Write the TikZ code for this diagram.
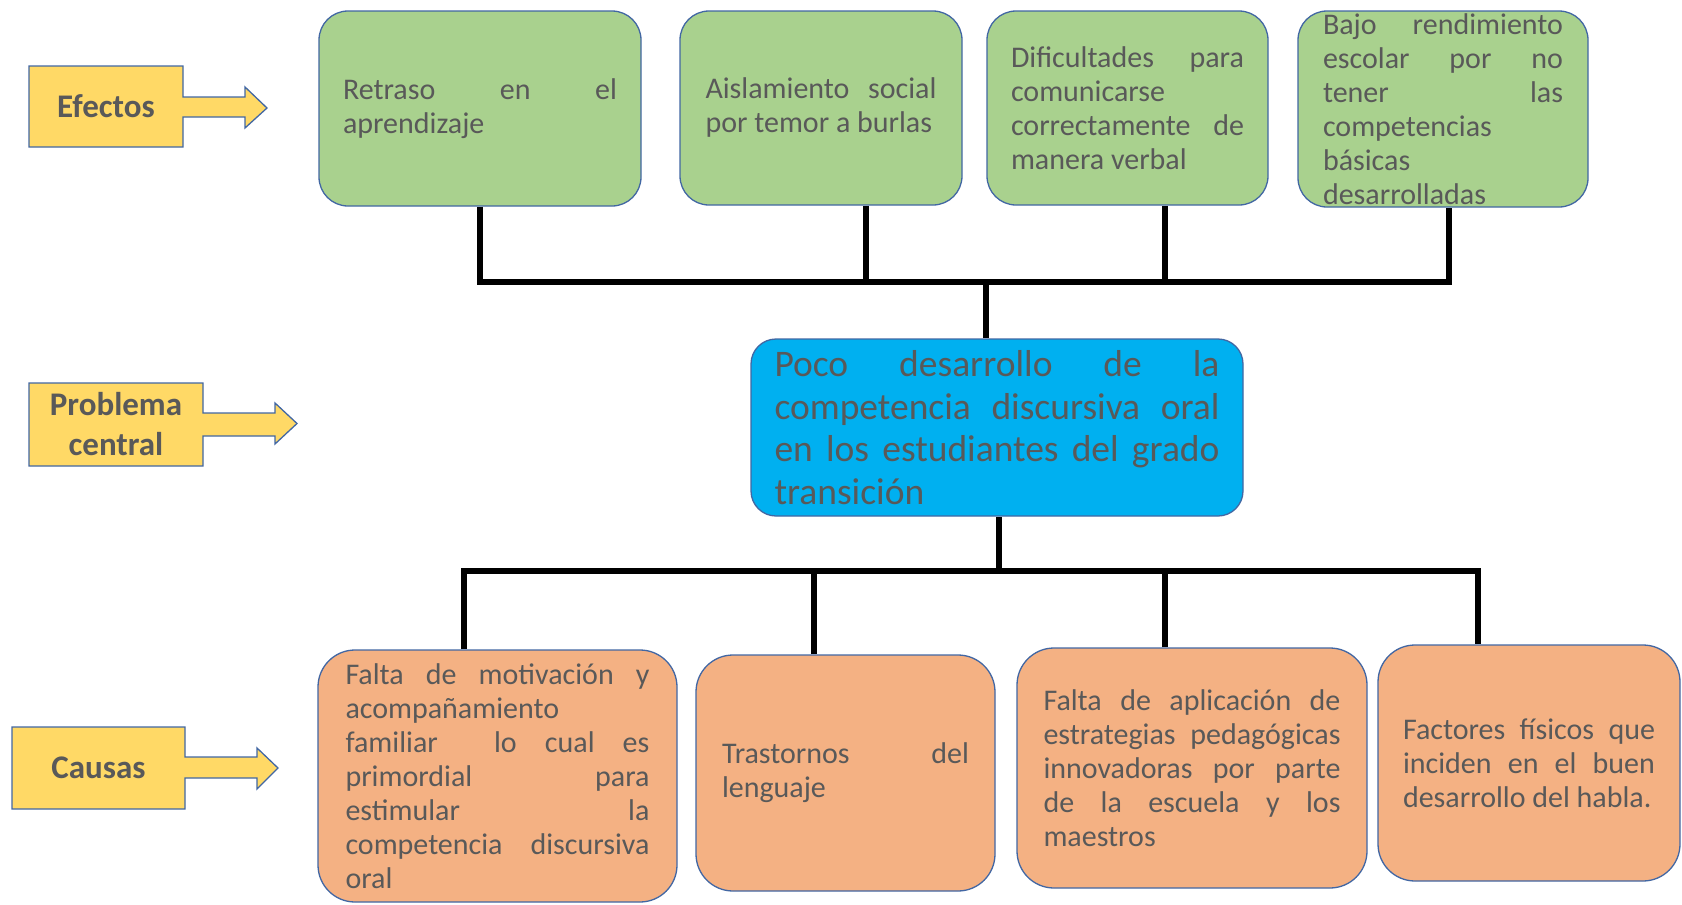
\documentclass[tikz,border=0pt]{standalone}
\usepackage{fontspec}
\setmainfont{Carlito}
\usepackage{tikz}

\definecolor{txtgray}{RGB}{89,89,89}
\definecolor{edgeblue}{RGB}{66,103,163}
\definecolor{efgreen}{RGB}{169,209,142}
\definecolor{pcblue}{RGB}{0,176,240}
\definecolor{caorange}{RGB}{244,177,131}
\definecolor{labyellow}{RGB}{255,217,102}

\tolerance=10000
\hyphenpenalty=10000
\hbadness=10000

\begin{document}
\begin{tikzpicture}[x=1pt,y=1pt,
  box/.style={draw=edgeblue,line width=1.3pt,inner sep=0pt,align=justify,text=txtgray,
    font=\fontsize{30}{34}\selectfont},
  efbox/.style={box,fill=efgreen,rounded corners=29pt},
  cabox/.style={box,fill=caorange,rounded corners=37pt},
  pcbox/.style={box,fill=pcblue,rounded corners=25pt,font=\fontsize{37.5}{42.7}\selectfont},
  labshape/.style={draw=edgeblue,line width=1.3pt,fill=labyellow},
  lab/.style={text=txtgray,align=center,inner sep=0pt,font=\bfseries\fontsize{33}{40}\selectfont},
  tree/.style={black,line width=5.5pt}]
\useasboundingbox (0,0) rectangle (1682,-905);

\draw [labshape] (29,-66) -- (183,-66) -- (183,-97) -- (245,-97) -- (245,-87) -- (267,-108)
  -- (245,-128) -- (245,-117) -- (183,-117) -- (183,-147) -- (29,-147) -- cycle;
\node [lab] (efectos) at (106,-106.5) {Efectos};
\draw [labshape] (29,-383) -- (203,-383) -- (203,-413) -- (275,-413) -- (275,-403) -- (297,-423.5)
  -- (275,-444) -- (275,-436) -- (203,-436) -- (203,-466) -- (29,-466) -- cycle;
\node [lab] (problema) at (116,-424.5) {Problema\\central};
\draw [labshape] (12,-727) -- (185,-727) -- (185,-757) -- (257,-757) -- (257,-748) -- (278,-768)
  -- (257,-789) -- (257,-778) -- (185,-778) -- (185,-809) -- (12,-809) -- cycle;
\node [lab] (causas) at (98.5,-768) {Causas};

\node [efbox,minimum width=322pt,minimum height=195pt,text width=274pt] (g1) at (480,-108.5)
  {Retraso~en~el\linebreak aprendizaje};
\node [efbox,minimum width=282pt,minimum height=194pt,text width=231pt] (g2) at (821,-108)
  {Aislamiento~social\linebreak por~temor~a~burlas};
\node [efbox,minimum width=281pt,minimum height=194pt,text width=233pt] (g3) at (1127.5,-108)
  {Dificultades~para\linebreak comunicarse\linebreak correctamente~de\linebreak manera~verbal};
\node [efbox,minimum width=290pt,minimum height=196pt,text width=240pt,inner ysep=-6pt] (g4) at (1443,-109)
  {Bajo~rendimiento\linebreak escolar~por~no\linebreak tener~las\linebreak competencias\linebreak básicas\linebreak desarrolladas};

\node [pcbox,minimum width=492pt,minimum height=177pt,text width=445pt] (prob) at (997,-427.5)
  {Poco~desarrollo~de~la\linebreak competencia~discursiva~oral\linebreak en~los~estudiantes~del~grado\linebreak transición};

\node [cabox,minimum width=359pt,minimum height=252pt,text width=304pt] (c1) at (497.5,-776)
  {Falta~de~motivación~y\linebreak acompañamiento\linebreak familiar~~lo~cual~es\linebreak primordial~para\linebreak estimular~la\linebreak competencia~discursiva\linebreak oral};
\node [cabox,minimum width=299pt,minimum height=236pt,text width=247pt] (c2) at (845.5,-773)
  {Trastornos~del\linebreak lenguaje};
\node [cabox,minimum width=350pt,minimum height=240pt,text width=297pt] (c3) at (1192,-768)
  {Falta~de~aplicación~de\linebreak estrategias~pedagógicas\linebreak innovadoras~por~parte\linebreak de~la~escuela~y~los\linebreak maestros};
\node [cabox,minimum width=302pt,minimum height=236pt,text width=252pt] (c4) at (1529,-763)
  {Factores~físicos~que\linebreak inciden~en~el~buen\linebreak desarrollo~del~habla.};

\coordinate (t1) at (480,-282);
\coordinate (t2) at (866,-282);
\coordinate (t3) at (1165,-282);
\coordinate (t4) at (1449,-282);
\coordinate (tc) at (986,-282);
\draw [tree] (t1 |- g1.south) -- (t1) -- (t4) -- (t4 |- g4.south);
\draw [tree] (t2 |- g2.south) -- (t2);
\draw [tree] (t3 |- g3.south) -- (t3);
\draw [tree] (tc) -- (tc |- prob.north);

\coordinate (b1) at (464,-571);
\coordinate (b2) at (814,-571);
\coordinate (b3) at (1165,-571);
\coordinate (b4) at (1478,-571);
\coordinate (bc) at (999,-571);
\draw [tree] (b1 |- c1.north) -- (b1) -- (b4) -- (b4 |- c4.north);
\draw [tree] (b2 |- c2.north) -- (b2);
\draw [tree] (b3 |- c3.north) -- (b3);
\draw [tree] (bc) -- (bc |- prob.south);
\end{tikzpicture}
\end{document}
